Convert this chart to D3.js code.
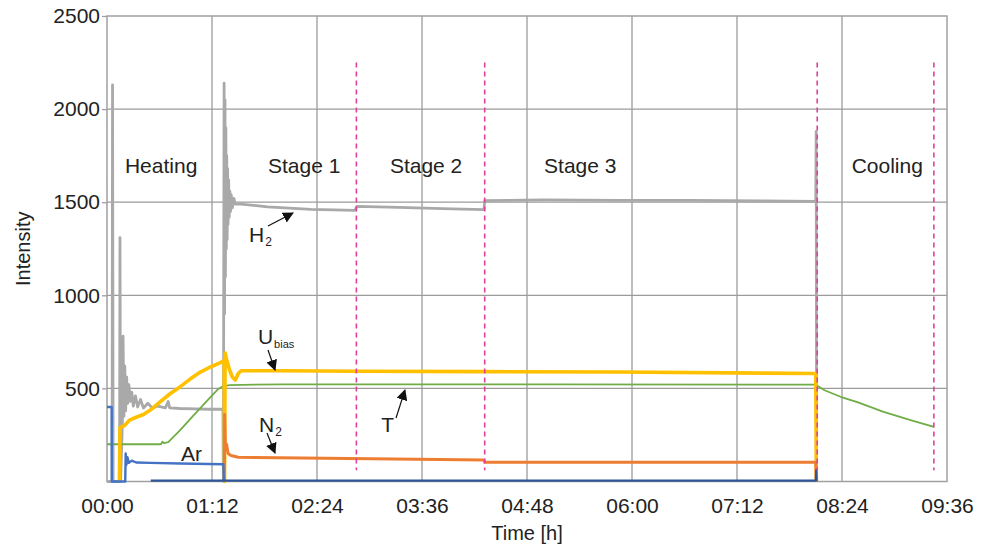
<!DOCTYPE html>
<html>
<head>
<meta charset="utf-8">
<script src="https://cdn.jsdelivr.net/npm/d3@7/dist/d3.min.js"></script>
<style>
  html, body { margin: 0; padding: 0; background: #fff; }
  svg { display: block; font-family: "Liberation Sans", Arial, sans-serif; }
</style>
</head>
<body>
<svg id="chart" width="987" height="546"></svg>
<script>
// time is in minutes from start, intensity in arbitrary units
const xTicks = [0, 72, 144, 216, 288, 360, 432, 504, 576];
const yTicks = [500, 1000, 1500, 2000, 2500];
const stageBounds = [171, 259, 487, 567];
const stageNames = ["Heating", "Stage 1", "Stage 2", "Stage 3", "Cooling"];

const h2 = [[0,0],[3.5,0],[3.8,2130],[4.2,0],[8.6,0],[8.9,1310],[9.3,0],[10.5,300],[11,780],[11.6,350],
  [12.2,620],[12.8,380],[13.5,560],[14.2,420],[15,520],[16,430],[17,480],[18,405],[19.5,460],[21,400],
  [23,440],[25,395],[28,420],[31,395],[35,405],[40,395],[42,430],[43,395],[50,392],[60,390],[70,388],
  [79.5,388],[79.8,0],[80.3,2140],[80.6,900],[80.9,2050],[81.2,1100],[81.5,1900],[81.8,1250],[82.1,1750],
  [82.4,1300],[82.7,1680],[83,1380],[83.4,1620],[83.8,1420],[84.2,1560],[84.7,1450],[85.2,1540],
  [86,1470],[87,1520],[88,1490],[92,1490],[110,1475],[140,1462],[170,1456],
  [171.3,1478],[200,1472],[230,1466],[258.5,1460],[259,1508],[300,1512],[350,1510],[400,1510],
  [450,1507],[486,1504],[486.3,1880],[486.6,0]];

const ubias = [[8.5,0],[8.9,290],[12,300],[15.5,330],[20,345],[25,360],[30,385],[36,425],[43,470],
  [50,508],[57,550],[64,588],[71,615],[77,636],[80.3,650],[80.6,0],[81,690],[82,655],[84,600],[86,560],
  [88,545],[90,580],[92,595],[120,595],[171,592],[259,590],[350,588],[486,580],[486.4,0]];

const temp = [[0,200],[37,200],[38,214],[39,206],[42,212],[50,275],[60,360],[70,445],[76,495],[80,512],
  [84,518],[120,522],[300,522],[486,520],[492,490],[503,455],[515,425],[532,375],[551,330],[567,293]];

const n2 = [[80.5,0],[80.7,360],[81.2,180],[82,200],[83,150],[85,140],[90,130],[150,125],[258.5,115],
  [259,103],[486,103],[486.4,0]];

const ar = [[0,400],[3.2,400],[3.3,0],[12.5,0],[12.8,150],[13.3,90],[14,130],[15,100],[17,112],[20,102],
  [30,100],[50,97],[79.8,93],[80.1,5]];

const trace = [[30,5],[486,5],[486.3,60],[486.6,0]];

const series = [
  { name: "H2", values: h2, color: "#a9a9a9", width: 2.8 },
  { name: "T", values: temp, color: "#70ad47", width: 1.8 },
  { name: "Ubias", values: ubias, color: "#ffc000", width: 3.6 },
  { name: "N2", values: n2, color: "#ed7d31", width: 3 },
  { name: "Ar", values: ar, color: "#4472c4", width: 2.4 },
  { name: "trace", values: trace, color: "#2f5597", width: 2.2 }
];

const svg = d3.select("#chart");
const pl = 107, pr = 947, pt = 16, pb = 481.5;

const x = d3.scaleLinear().domain([0, 576]).range([pl, pr]);
const y = d3.scaleLinear().domain([0, 2500]).range([pb, pt]);

const fmt = m => String(Math.floor(m / 60)).padStart(2, "0") + ":" + String(m % 60).padStart(2, "0");

// grid
svg.append("g").selectAll("line")
  .data(xTicks.slice(1, -1))
  .join("line")
  .attr("x1", d => x(d)).attr("x2", d => x(d))
  .attr("y1", pt).attr("y2", pb)
  .attr("stroke", "#9b9b9b").attr("stroke-width", 1.3);

svg.append("g").selectAll("line")
  .data(yTicks.slice(0, -1))
  .join("line")
  .attr("x1", pl).attr("x2", pr)
  .attr("y1", d => y(d)).attr("y2", d => y(d))
  .attr("stroke", "#9b9b9b").attr("stroke-width", 1.3);

svg.append("rect")
  .attr("x", pl).attr("y", pt)
  .attr("width", pr - pl).attr("height", pb - pt)
  .attr("fill", "none").attr("stroke", "#a0a0a0").attr("stroke-width", 1.5);

// axes
const yAxis = svg.append("g")
  .attr("transform", `translate(${pl},0)`)
  .call(d3.axisLeft(y).tickValues(yTicks).tickFormat(d3.format("d")).tickSize(5).tickPadding(2));
yAxis.select(".domain").remove();
yAxis.selectAll("line").attr("stroke", "#a0a0a0").attr("stroke-width", 1.3);
yAxis.selectAll("text").attr("font-size", 21).attr("fill", "#222")
  .style("font-family", '"Liberation Sans", Arial, sans-serif');

const xAxis = svg.append("g")
  .attr("transform", `translate(0,${pb})`)
  .call(d3.axisBottom(x).tickValues(xTicks).tickFormat(fmt).tickSize(0).tickPadding(16.5));
xAxis.select(".domain").remove();
xAxis.selectAll("text").attr("font-size", 21).attr("fill", "#222")
  .style("font-family", '"Liberation Sans", Arial, sans-serif');

svg.append("text")
  .attr("x", (pl + pr) / 2).attr("y", 540)
  .attr("text-anchor", "middle").attr("font-size", 20).attr("fill", "#222")
  .text("Time [h]");

svg.append("text")
  .attr("transform", `translate(30,${(pt + pb) / 2}) rotate(-90)`)
  .attr("text-anchor", "middle").attr("font-size", 20).attr("fill", "#222")
  .text("Intensity");

// series
const line = d3.line().x(d => x(d[0])).y(d => y(d[1]));
svg.append("g").selectAll("path")
  .data(series)
  .join("path")
  .attr("d", d => line(d.values))
  .attr("fill", "none")
  .attr("stroke", d => d.color)
  .attr("stroke-width", d => d.width)
  .attr("stroke-linejoin", "round");

// stage boundaries
svg.append("g").selectAll("line")
  .data(stageBounds)
  .join("line")
  .attr("x1", d => x(d)).attr("x2", d => x(d))
  .attr("y1", y(2250)).attr("y2", y(60))
  .attr("stroke", "#e0409a").attr("stroke-width", 1.6)
  .attr("stroke-dasharray", "5,4");

// stage names, placed by hand in time units
const stageAt = [12.3, 110.4, 194, 299.7, 510.6];
svg.append("g").selectAll("text")
  .data(stageNames)
  .join("text")
  .attr("x", (d, i) => x(stageAt[i]))
  .attr("y", y(1656))
  .attr("font-size", 21).attr("fill", "#222")
  .text(d => d);

// annotations
svg.append("defs").append("marker")
  .attr("id", "head")
  .attr("viewBox", "0 0 10 10")
  .attr("refX", 9).attr("refY", 5)
  .attr("markerWidth", 11).attr("markerHeight", 11)
  .attr("markerUnits", "userSpaceOnUse")
  .attr("orient", "auto")
  .append("path").attr("d", "M0,0L10,5L0,10Z").attr("fill", "#111");

const labels = [
  { main: "H", sub: "2", t: 97.4, v: 1286, subSize: 12 },
  { main: "U", sub: "bias", t: 103.5, v: 738, subSize: 11 },
  { main: "N", sub: "2", t: 104.2, v: 267, subSize: 12 },
  { main: "T", sub: "", t: 188, v: 267, subSize: 12 },
  { main: "Ar", sub: "", t: 50.7, v: 110, subSize: 12 }
];
const arrows = [
  [[110.4, 1372], [127.5, 1442]],
  [[110.4, 706], [115.2, 599]],
  [[109.7, 260], [115.2, 153]],
  [[198.2, 341], [204.3, 491]]
];

const lab = svg.append("g").selectAll("text")
  .data(labels)
  .join("text")
  .attr("x", d => x(d.t)).attr("y", d => y(d.v))
  .attr("font-size", 21).attr("fill", "#222");
lab.append("tspan").text(d => d.main);
lab.append("tspan")
  .attr("font-size", d => d.subSize)
  .attr("dx", 1).attr("dy", 4)
  .text(d => d.sub);

svg.append("g").selectAll("line")
  .data(arrows)
  .join("line")
  .attr("x1", d => x(d[0][0])).attr("y1", d => y(d[0][1]))
  .attr("x2", d => x(d[1][0])).attr("y2", d => y(d[1][1]))
  .attr("stroke", "#111").attr("stroke-width", 1.2)
  .attr("marker-end", "url(#head)");
</script>
</body>
</html>
